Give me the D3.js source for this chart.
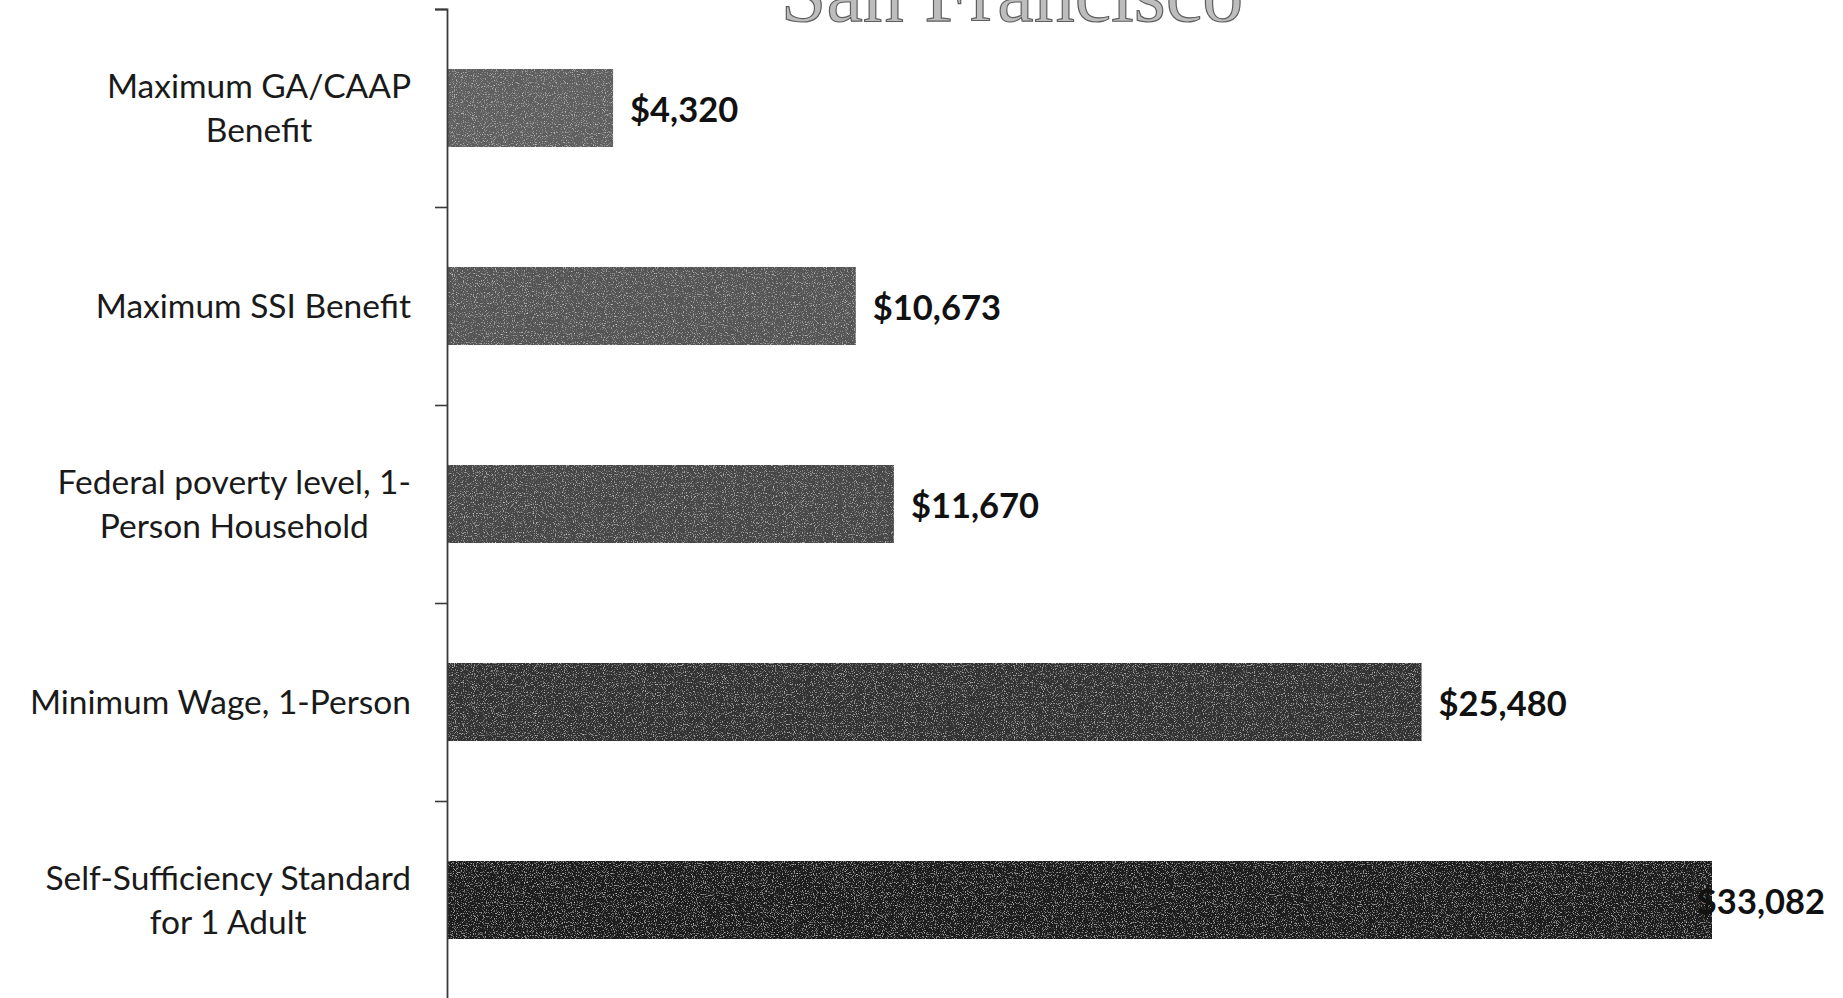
<!DOCTYPE html>
<html>
<head>
<meta charset="utf-8">
<script src="https://cdn.jsdelivr.net/npm/d3@7"></script>
<style>
  html, body { margin: 0; padding: 0; background: #ffffff; }
  svg { display: block; }
</style>
</head>
<body>
<svg id="chart" width="1843" height="998"></svg>
<script>
// ---- data ----
const titleText = "San Francisco";
const categories = [
  ["Maximum GA/CAAP", "Benefit"],
  ["Maximum SSI Benefit"],
  ["Federal poverty level, 1-", "Person Household"],
  ["Minimum Wage, 1-Person"],
  ["Self-Sufficiency Standard", "for 1 Adult"]
];
const values = [4320, 10673, 11670, 25480, 33082];
const barShades = ["#5e5e5e", "#545454", "#474747", "#303030", "#1a1a1a"];

// ---- layout ----
const W = 1843, H = 998;
const axisX = 447;
const plotTop = 9, plotBottom = 999;
const labelRight = 411;
const fontFam = "Lato, 'Open Sans', sans-serif";

const svg = d3.select("#chart");
const keys = categories.map((c, i) => "c" + i);

const x = d3.scaleLinear().domain([0, 33082]).range([axisX + 1, 1712]);
const y = d3.scaleBand().domain(keys).range([plotTop, plotBottom])
  .paddingInner(0.606).paddingOuter(0.303);

// noise texture filter for scanned look
const defs = svg.append("defs");
const f = defs.append("filter").attr("id", "grain").attr("x", 0).attr("y", 0).attr("width", 1).attr("height", 1);
f.append("feTurbulence").attr("type", "fractalNoise").attr("baseFrequency", 0.9).attr("numOctaves", 2).attr("seed", 3).attr("result", "noise");
f.append("feColorMatrix").attr("in", "noise").attr("type", "matrix")
  .attr("values", "0 0 0 0 1  0 0 0 0 1  0 0 0 0 1  0 0 0 1.7 -0.95").attr("result", "spots");
f.append("feComposite").attr("in", "spots").attr("in2", "SourceGraphic").attr("operator", "in").attr("result", "spotsIn");
f.append("feMerge").selectAll("feMergeNode").data(["SourceGraphic", "spotsIn"]).join("feMergeNode").attr("in", d => d);

// title (cut off at top, as in the reference)
svg.append("text")
  .attr("x", 1012).attr("y", 21)
  .attr("text-anchor", "middle")
  .attr("font-family", "'Liberation Serif', 'DejaVu Serif', serif")
  .attr("font-size", 82)
  .attr("fill", "#bdbdbd")
  .attr("stroke", "#5e5e5e")
  .attr("stroke-width", 1.2)
  .text(titleText);

// bars
svg.append("g").selectAll("rect").data(values).join("rect")
  .attr("x", x(0))
  .attr("y", (d, i) => y(keys[i]))
  .attr("width", d => x(d) - x(0))
  .attr("height", y.bandwidth())
  .attr("fill", (d, i) => barShades[i])
  .attr("filter", "url(#grain)");

// axis
const yAxis = d3.axisLeft(d3.scaleLinear().domain([0, categories.length]).range([plotTop, plotBottom]))
  .tickValues(d3.range(categories.length + 1))
  .tickSize(12)
  .tickFormat("");
const ag = svg.append("g").attr("transform", `translate(${axisX},0)`).call(yAxis);
ag.select(".domain").attr("stroke", "#3a3a3a").attr("stroke-width", 1.8);
ag.selectAll(".tick line").attr("stroke", "#3a3a3a").attr("stroke-width", 1.6);

// category labels
const lineH = 43.5;
categories.forEach((lines, i) => {
  const cy = y(keys[i]) + y.bandwidth() / 2;
  const g = svg.append("g");
  const texts = lines.map((ln, j) => g.append("text")
    .attr("font-family", fontFam)
    .attr("font-size", 33.5)
    .attr("fill", "#1a1a1a")
    .attr("text-anchor", "middle")
    .attr("y", cy + (j - (lines.length - 1) / 2) * lineH + 12)
    .text(ln));
  const maxW = d3.max(texts, t => t.node().getComputedTextLength());
  texts.forEach(t => t.attr("x", labelRight - maxW / 2));
});

// value labels
const fmt = d3.format("$,");
values.forEach((v, i) => {
  const cy = y(keys[i]) + y.bandwidth() / 2;
  const t = svg.append("text")
    .attr("font-family", fontFam)
    .attr("font-weight", "bold")
    .attr("font-size", 34.5)
    .attr("fill", "#111")
    .attr("y", cy + 14)
    .attr("x", x(v) + 17)
    .text(fmt(v));
  const w = t.node().getComputedTextLength();
  if (x(v) + 17 + w > 1825) t.attr("x", 1825 - w);
});
</script>
</body>
</html>
